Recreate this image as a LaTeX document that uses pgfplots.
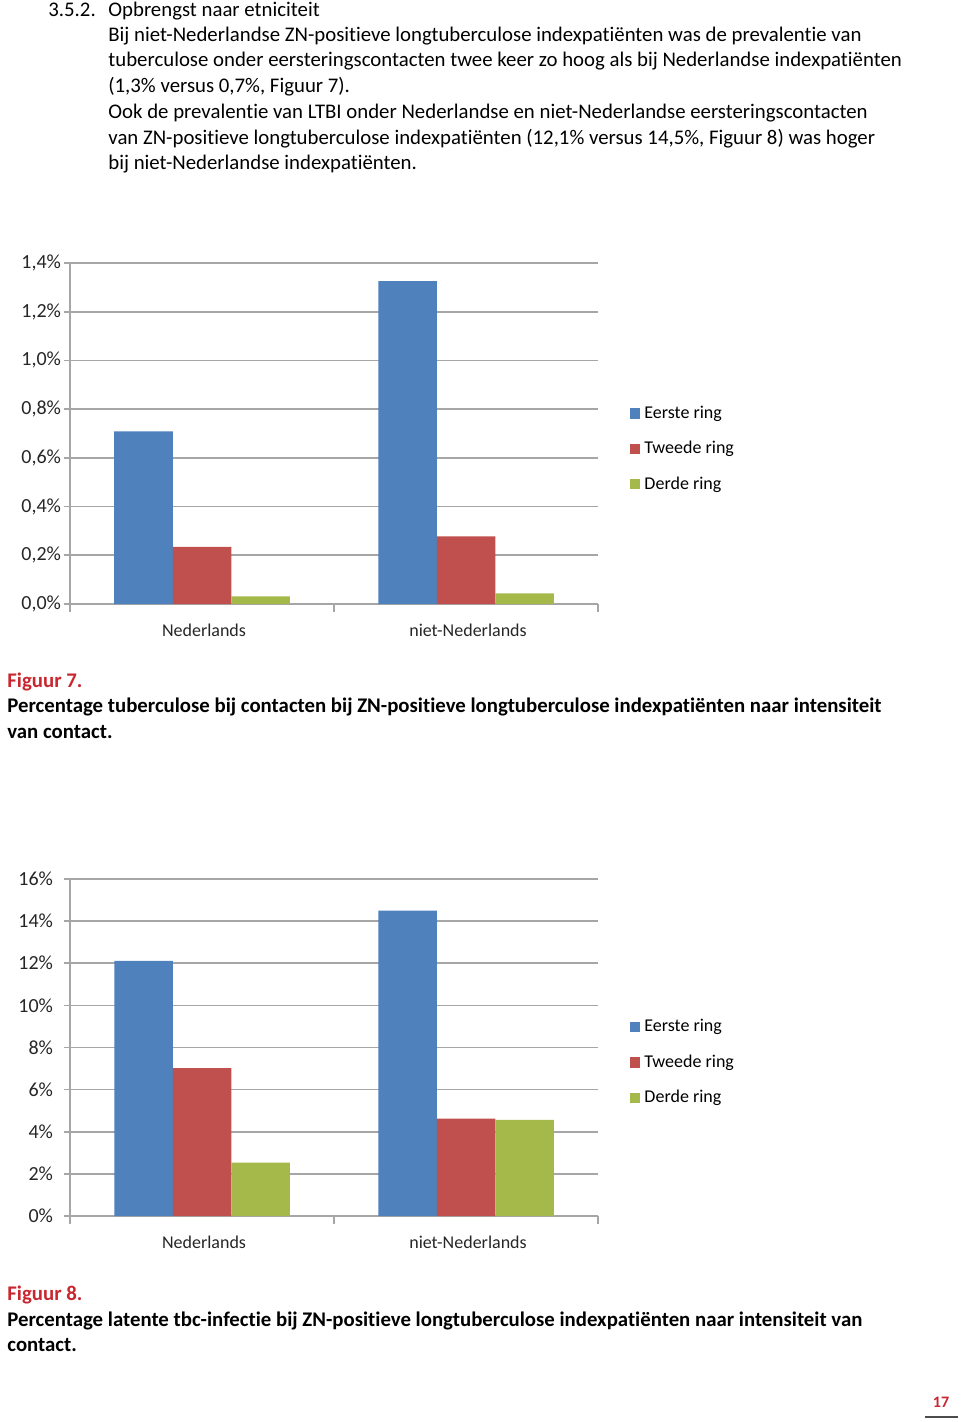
\documentclass[border=0pt]{standalone}
\usepackage{pgfplots}
\pgfplotsset{compat=1.18}
\usepackage{fontspec}
\setmainfont[Ligatures={NoCommon,NoRequired,NoContextual}]{Carlito}
\definecolor{cblue}{HTML}{4F81BD}
\definecolor{cred}{HTML}{C0504D}
\definecolor{cgreen}{HTML}{A5B94B}
\definecolor{capred}{HTML}{C8272F}
\definecolor{gridgray}{HTML}{A6A6A6}
\newcommand{\bodyfont}{\fontsize{10.4pt}{12pt}\selectfont}
\newcommand{\tickfont}{\fontsize{10pt}{12pt}\selectfont}
\newcommand{\chartfont}{\fontsize{9pt}{10pt}\selectfont}
\pgfplotsset{
 mybar/.style={
  scale only axis, width=264pt,
  ybar=0pt, bar width=29.25pt,
  xmin=-0.5, xmax=1.5, ymin=0,
  axis x line*=bottom, axis y line*=left,
  axis line style={gridgray, line width=0.8pt},
  ymajorgrids, grid style={gridgray, line width=0.8pt},
  xtick={0,1}, xticklabels={Nederlands, niet-Nederlands},
  major x tick style={draw=none},
  extra x ticks={-0.5,0.5,1.5}, extra x tick labels={},
  extra x tick style={major x tick style={draw=gridgray, line width=0.8pt}, major tick length=4pt, tick align=outside},
  ytick align=outside, major tick length=3pt,
  ytick style={draw=gridgray, line width=0.8pt},
  yticklabel style={font=\tickfont, text=black!85},
  xticklabel style={font=\chartfont, text=black!85, yshift=-3.5pt, xshift=1pt},
  legend style={draw=none, fill=none, at={(1.06,0.455)}, anchor=west, font=\chartfont, row sep=6pt, inner sep=0pt},
  legend cell align=left,
  legend image code/.code={\fill[##1] (0pt,-2.6pt) rectangle (5.2pt,2.6pt);},
  every axis plot/.append style={draw=none},
 }
}
\begin{document}
\begin{tikzpicture}
\begin{scope}[x=0.5pt,y=-0.5pt]
\path[use as bounding box] (0,0) rectangle (960,1422);
\begin{scope}[every node/.style={anchor=base west, inner sep=0pt, font=\bodyfont}]
\node at (48,17) {3.5.2.};
\node at (108,17) {Opbrengst naar etniciteit};
\node at (108,42) {Bij niet-Nederlandse ZN-positieve longtuberculose indexpatiënten was de prevalentie van};
\node at (108,67) {tuberculose onder eersteringscontacten twee keer zo hoog als bij Nederlandse indexpatiënten};
\node at (108,93) {(1,3\% versus 0,7\%, Figuur 7).};
\node at (108,119) {Ook de prevalentie van LTBI onder Nederlandse en niet-Nederlandse eersteringscontacten};
\node at (108,145) {van ZN-positieve longtuberculose indexpatiënten (12,1\% versus 14,5\%, Figuur 8) was hoger};
\node at (108,170) {bij niet-Nederlandse indexpatiënten.};
\node[text=capred] at (7,687) {\bfseries Figuur 7.};
\node at (7,712) {\bfseries Percentage tuberculose bij contacten bij ZN-positieve longtuberculose indexpatiënten naar intensiteit};
\node at (7,738) {\bfseries van contact.};
\node[text=capred] at (7,1300) {\bfseries Figuur 8.};
\node at (7,1326) {\bfseries Percentage latente tbc-infectie bij ZN-positieve longtuberculose indexpatiënten naar intensiteit van};
\node at (7,1351) {\bfseries contact.};
\end{scope}
\node[anchor=base, inner sep=0pt, text=capred, font=\fontsize{8pt}{9pt}\selectfont\bfseries] at (941,1407) {17};
\draw[black!70, line width=1pt] (925,1417) -- (958,1417);
\end{scope}

\begin{axis}[mybar, at={(35pt,-302pt)}, anchor=south west, height=170.5pt,
  ymax=1.4, ytick={0,0.2,0.4,0.6,0.8,1.0,1.2,1.4},
  yticklabel style={xshift=2pt},
  yticklabels={{0,0\%},{0,2\%},{0,4\%},{0,6\%},{0,8\%},{1,0\%},{1,2\%},{1,4\%}}]
\addplot[fill=cblue] coordinates {(0,0.709) (1,1.326)};
\addplot[fill=cred] coordinates {(0,0.235) (1,0.278)};
\addplot[fill=cgreen] coordinates {(0,0.031) (1,0.044)};
\legend{Eerste ring, Tweede ring, Derde ring}
\end{axis}

\begin{axis}[mybar, at={(35pt,-608pt)}, anchor=south west, height=168.5pt,
  ymax=16, ytick={0,2,4,6,8,10,12,14,16},
  yticklabel style={xshift=-2pt},
  yticklabels={0\%,2\%,4\%,6\%,8\%,10\%,12\%,14\%,16\%}]
\addplot[fill=cblue] coordinates {(0,12.11) (1,14.50)};
\addplot[fill=cred] coordinates {(0,7.02) (1,4.62)};
\addplot[fill=cgreen] coordinates {(0,2.54) (1,4.57)};
\legend{Eerste ring, Tweede ring, Derde ring}
\end{axis}
\end{tikzpicture}
\end{document}
